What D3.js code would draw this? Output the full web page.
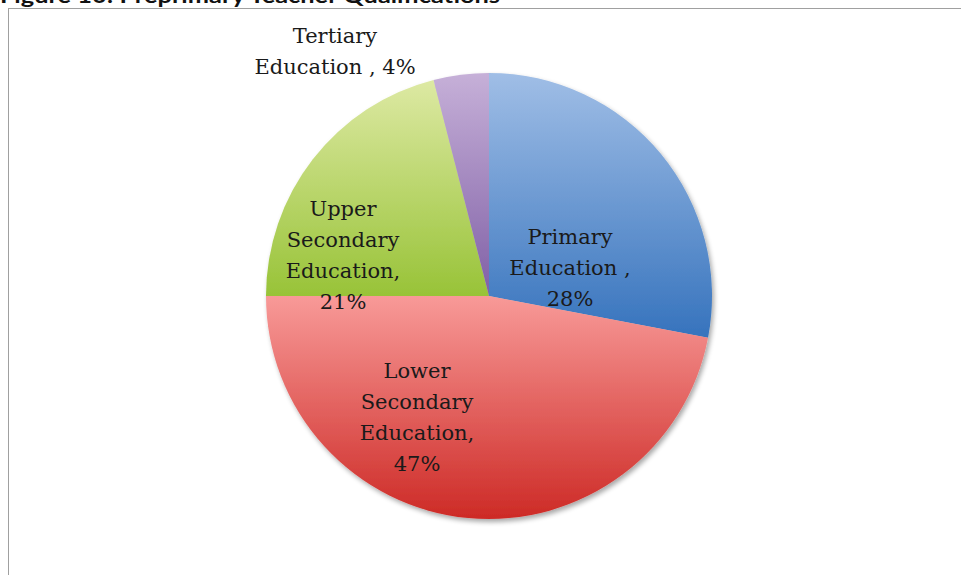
<!DOCTYPE html>
<html>
<head>
<meta charset="utf-8">
<script src="https://cdn.jsdelivr.net/npm/d3@7"></script>
<style>
  html, body { margin: 0; padding: 0; background: #fff; overflow: hidden; }
  svg { display: block; }
</style>
</head>
<body>
<svg id="chart" width="961" height="575"></svg>
<script>
// ---- data ----
const title = "Figure 10: Preprimary Teacher Qualifications";
const categories = ["Primary Education", "Lower Secondary Education", "Upper Secondary Education", "Tertiary Education"];
const values = [28, 47, 21, 4];
const labelLines = [
  ["Primary", "Education ,", "28%"],
  ["Lower", "Secondary", "Education,", "47%"],
  ["Upper", "Secondary", "Education,", "21%"],
  ["Tertiary", "Education , 4%"]
];
// gradient colours (top, bottom) per slice
const colorTop = ["#a0bee6", "#f89a98", "#dde9a3", "#c6b0d8"];
const colorBottom = ["#3673bd", "#cd2a26", "#98c338", "#8060a6"];
// label block centres relative to the pie centre (layout)
const labelOffset = [[81, -29], [-72, 120], [-146, -42], [-154, -246]];

// ---- layout ----
const W = 961, H = 575;
const cx = 489, cy = 296, R = 223;
const lineH = 31;

const svg = d3.select("#chart");
const defs = svg.append("defs");

const shadow = defs.append("filter").attr("id", "shadow")
  .attr("x", "-10%").attr("y", "-10%").attr("width", "120%").attr("height", "120%");
shadow.append("feGaussianBlur").attr("in", "SourceAlpha").attr("stdDeviation", 2.5).attr("result", "blur");
shadow.append("feOffset").attr("in", "blur").attr("dx", 2).attr("dy", 3).attr("result", "off");
shadow.append("feComponentTransfer").attr("in", "off").attr("result", "sh")
  .append("feFuncA").attr("type", "linear").attr("slope", 0.35);
const merge = shadow.append("feMerge");
merge.append("feMergeNode").attr("in", "sh");
merge.append("feMergeNode").attr("in", "SourceGraphic");

// title (clipped at top like the reference)
svg.append("text")
  .attr("x", 0).attr("y", 3)
  .attr("font-family", "Lato, 'Open Sans', sans-serif")
  .attr("font-weight", "bold")
  .attr("font-size", 20)
  .attr("textLength", 500)
  .attr("lengthAdjust", "spacingAndGlyphs")
  .attr("fill", "#111")
  .text(title);

// frame
svg.append("rect")
  .attr("x", 8.5).attr("y", 8.5).attr("width", 1000).attr("height", 1000)
  .attr("fill", "none").attr("stroke", "#a0a0a0").attr("stroke-width", 1);

const pie = d3.pie().sort(null).value(d => d.value);
const data = categories.map((c, i) => ({ name: c, value: values[i], i }));
const arcs = pie(data);
const arc = d3.arc().innerRadius(0).outerRadius(R);

// per-slice vertical gradients spanning each slice's bounding box
arcs.forEach((a, i) => {
  const angles = [a.startAngle, a.endAngle];
  for (let k = Math.ceil(a.startAngle / (Math.PI / 2)); k * Math.PI / 2 < a.endAngle; k++) angles.push(k * Math.PI / 2);
  const ys = angles.map(t => -R * Math.cos(t)).concat([0]);
  const y0 = d3.min(ys), y1 = d3.max(ys);
  const g = defs.append("linearGradient").attr("id", "grad" + i)
    .attr("gradientUnits", "userSpaceOnUse")
    .attr("x1", 0).attr("x2", 0).attr("y1", y0).attr("y2", y1);
  g.append("stop").attr("offset", "0%").attr("stop-color", colorTop[i]);
  g.append("stop").attr("offset", "100%").attr("stop-color", colorBottom[i]);
});

const gPie = svg.append("g").attr("transform", `translate(${cx},${cy})`);
gPie.append("g").attr("filter", "url(#shadow)")
  .selectAll("path").data(arcs).join("path")
  .attr("d", arc)
  .attr("fill", (d, i) => `url(#grad${i})`);

// labels
const gLab = gPie.append("g")
  .attr("font-family", "'DejaVu Serif', 'Liberation Serif', serif")
  .attr("font-size", 21)
  .attr("fill", "#1a1a1a")
  .attr("text-anchor", "middle");

arcs.forEach((a, i) => {
  const lines = labelLines[i];
  const [ox, oy] = labelOffset[i];
  const t = gLab.append("text")
    .attr("x", ox)
    .attr("y", oy - (lines.length - 1) * lineH / 2 + 8);
  lines.forEach((ln, j) => {
    t.append("tspan").attr("x", ox).attr("dy", j === 0 ? 0 : lineH).text(ln);
  });
});
</script>
</body>
</html>
